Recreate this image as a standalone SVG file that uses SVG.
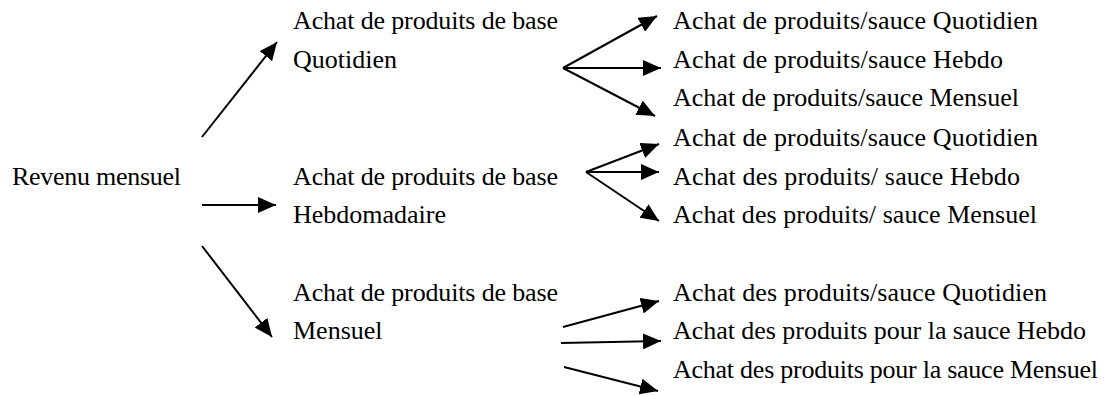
<svg xmlns="http://www.w3.org/2000/svg" width="1106" height="396" viewBox="0 0 1106 396">
<style>
text{font-family:"Liberation Serif","Times New Roman",serif;font-size:26px;fill:#000}
.c line{stroke:#000;stroke-width:2;marker-end:url(#ah)}
</style>
<defs>
<marker id="ah" markerUnits="userSpaceOnUse" markerWidth="19" markerHeight="16" refX="18" refY="8" orient="auto">
<path d="M0,0 L18,8 L0,16 z" fill="#000"/>
</marker>
</defs>
<rect width="1106" height="396" fill="#fff"/>
<g id="revenu"><text x="12" y="185" textLength="169">Revenu mensuel</text></g>
<g id="base-quotidien"><text x="293" y="29" textLength="265">Achat de produits de base</text><text x="293" y="68">Quotidien</text></g>
<g id="base-hebdo"><text x="293" y="185" textLength="265">Achat de produits de base</text><text x="293" y="223">Hebdomadaire</text></g>
<g id="base-mensuel"><text x="293" y="301" textLength="265">Achat de produits de base</text><text x="293" y="339">Mensuel</text></g>
<g id="q1"><text x="673" y="29" textLength="365">Achat de produits/sauce Quotidien</text></g>
<g id="q2"><text x="673" y="68" textLength="330">Achat de produits/sauce Hebdo</text></g>
<g id="q3"><text x="673" y="106" textLength="346">Achat de produits/sauce Mensuel</text></g>
<g id="h1"><text x="673" y="146" textLength="365">Achat de produits/sauce Quotidien</text></g>
<g id="h2"><text x="673" y="185" textLength="347">Achat des produits/ sauce Hebdo</text></g>
<g id="h3"><text x="673" y="223" textLength="364">Achat des produits/ sauce Mensuel</text></g>
<g id="m1"><text x="673" y="301" textLength="374">Achat des produits/sauce Quotidien</text></g>
<g id="m2"><text x="673" y="339" textLength="413">Achat des produits pour la sauce Hebdo</text></g>
<g id="m3"><text x="673" y="378" textLength="425">Achat des produits pour la sauce Mensuel</text></g>
<g id="connectors" class="c">
<line x1="202" y1="137" x2="277" y2="42"/>
<line x1="202" y1="205" x2="276" y2="205"/>
<line x1="202" y1="246" x2="272" y2="337"/>
<line x1="563" y1="68" x2="657" y2="16"/>
<line x1="563" y1="68" x2="661" y2="68"/>
<line x1="563" y1="68" x2="655" y2="116"/>
<line x1="586" y1="172" x2="659" y2="144"/>
<line x1="586" y1="172" x2="659" y2="172"/>
<line x1="586" y1="172" x2="659" y2="221"/>
<line x1="563" y1="327" x2="659" y2="301"/>
<line x1="561" y1="343" x2="661" y2="341"/>
<line x1="564" y1="367" x2="658" y2="391"/>
</g>
</svg>
